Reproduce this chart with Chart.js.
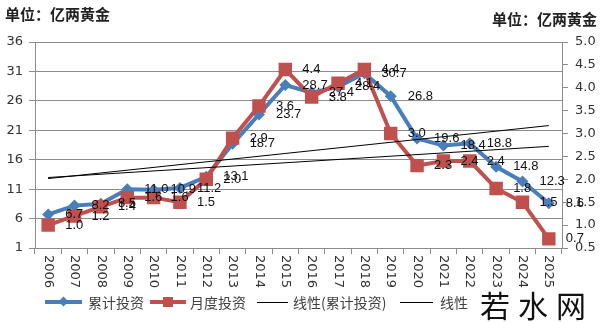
<!DOCTYPE html>
<html>
<head>
<meta charset="utf-8">
<script src="https://cdn.jsdelivr.net/npm/chart.js@4/dist/chart.umd.min.js"></script>
<style>
  body { margin: 0; background: #fff; }
  #wrap { position: relative; width: 600px; height: 322px; overflow: hidden; }
  #chart { position: absolute; left: 0; top: 0; }
  .unit { position: absolute; font: bold 15px "Noto Sans CJK SC"; color: #222; white-space: nowrap; }
  .lg { position: absolute; font: 14px "Noto Sans CJK SC"; color: #404040; white-space: nowrap; line-height: 16px; }
  .ln { position: absolute; }
  .mk { position: absolute; }
  #wm { position: absolute; left: 480px; top: 282px; font: 30px "Noto Sans CJK SC"; color: #111; letter-spacing: 8px; white-space: nowrap; }
</style>
</head>
<body>
<div id="wrap">
  <canvas id="chart" width="600" height="322"></canvas>
  <div class="unit" style="left:5px;top:3px;">单位：亿两黄金</div>
  <div class="unit" style="left:492px;top:8px;">单位：亿两黄金</div>

  <div class="ln" style="left:45px;top:300px;width:37px;height:4px;background:#4A7EBB;"></div>
  <div class="mk" style="left:60px;top:298px;width:7px;height:7px;background:#4A7EBB;transform:rotate(45deg);"></div>
  <div class="lg" style="left:88px;top:294px;">累计投资</div>

  <div class="ln" style="left:150px;top:300px;width:36px;height:4px;background:#C0504D;"></div>
  <div class="mk" style="left:163px;top:297px;width:10px;height:10px;background:#C0504D;"></div>
  <div class="lg" style="left:190px;top:294px;">月度投资</div>

  <div class="ln" style="left:257px;top:302px;width:31px;height:1px;background:#000;"></div>
  <div class="lg" style="left:293px;top:294px;">线性(累计投资)</div>

  <div class="ln" style="left:400px;top:302px;width:33px;height:1px;background:#000;"></div>
  <div class="lg" style="left:440px;top:294px;">线性</div>

  <div id="wm">若水网</div>
</div>
<script>
var years = ['2006','2007','2008','2009','2010','2011','2012','2013','2014','2015',
             '2016','2017','2018','2019','2020','2021','2022','2023','2024','2025'];
var cumulative = [6.7, 8.2, 8.5, 11.0, 10.9, 11.2, 13.1, 18.7, 23.7, 28.7,
                  27.4, 28.4, 30.7, 26.8, 19.6, 18.4, 18.8, 14.8, 12.3, 8.6];
var monthly = [1.0, 1.2, 1.4, 1.6, 1.6, 1.5, 2.0, 2.9, 3.6, 4.4,
               3.8, 4.1, 4.4, 3.0, 2.3, 2.4, 2.4, 1.8, 1.5, 0.7];
// trend line ends (first year, last year)
var trendCumulative = [12.8, 21.8];
var trendMonthly = [2.04, 2.72];

var gridGray = '#8c8c8c';
var tickFont = { family: 'DejaVu Sans', size: 13 };

var pointLabels = {
  id: 'pointLabels',
  afterDatasetsDraw: function(chart) {
    var ctx = chart.ctx;
    ctx.save();
    ctx.font = '13px "Liberation Sans"';
    ctx.fillStyle = '#111';
    ctx.textAlign = 'left';
    ctx.textBaseline = 'middle';
    [0, 1].forEach(function(di) {
      var meta = chart.getDatasetMeta(di);
      var vals = chart.data.datasets[di].data;
      meta.data.forEach(function(pt, i) {
        ctx.fillText(vals[i].toFixed(1), pt.x + 17, pt.y);
      });
    });
    ctx.restore();
  }
};

var yearLabels = {
  id: 'yearLabels',
  afterDraw: function(chart) {
    var ctx = chart.ctx;
    var xs = chart.scales.x;
    ctx.save();
    ctx.font = '13px "DejaVu Sans"';
    ctx.fillStyle = '#333';
    ctx.textAlign = 'left';
    ctx.textBaseline = 'middle';
    years.forEach(function(y, i) {
      ctx.save();
      ctx.translate(xs.getPixelForValue(i), chart.chartArea.bottom + 7);
      ctx.rotate(Math.PI / 2);
      ctx.fillText(y, 0, 0);
      ctx.restore();
    });
    ctx.restore();
  }
};

new Chart('chart', {
  type: 'line',
  data: {
    labels: years,
    datasets: [
      { label: '累计投资', data: cumulative, yAxisID: 'y', order: 3,
        borderColor: '#4A7EBB', backgroundColor: '#4A7EBB', borderWidth: 4,
        pointStyle: 'rectRot', pointRadius: 6, pointBorderWidth: 0, tension: 0 },
      { label: '月度投资', data: monthly, yAxisID: 'y1', order: 2,
        borderColor: '#C0504D', backgroundColor: '#C0504D', borderWidth: 4,
        pointStyle: 'rect', pointRadius: 9.5, pointBorderWidth: 0, tension: 0 },
      { label: '线性(累计投资)', yAxisID: 'y', order: 1,
        data: [{ x: years[0], y: trendCumulative[0] }, { x: years[years.length - 1], y: trendCumulative[1] }],
        borderColor: '#000', borderWidth: 1, pointRadius: 0 },
      { label: '线性', yAxisID: 'y1', order: 0,
        data: [{ x: years[0], y: trendMonthly[0] }, { x: years[years.length - 1], y: trendMonthly[1] }],
        borderColor: '#000', borderWidth: 1, pointRadius: 0 }
    ]
  },
  options: {
    responsive: false,
    animation: false,
    layout: { padding: { top: 42, left: 0, right: 0, bottom: 0 } },
    plugins: { legend: { display: false }, tooltip: { enabled: false } },
    scales: {
      x: {
        offset: true,
        grid: { offset: true, drawOnChartArea: false, drawTicks: true, tickLength: 6, color: gridGray },
        border: { color: gridGray },
        ticks: { display: false },
        afterFit: function(s) { s.height = 74; }
      },
      y: {
        position: 'left', min: 1, max: 36,
        ticks: { stepSize: 5, color: '#333', font: tickFont, padding: 6 },
        grid: { color: gridGray, tickLength: 6 },
        border: { color: gridGray },
        afterFit: function(s) { s.width = 35; }
      },
      y1: {
        position: 'right', min: 0.5, max: 5,
        ticks: { stepSize: 0.5, color: '#333', font: tickFont, padding: 7,
                 callback: function(v) { return v.toFixed(1); } },
        grid: { drawOnChartArea: false, color: gridGray, tickLength: 6 },
        border: { color: gridGray },
        afterFit: function(s) { s.width = 38; }
      }
    }
  },
  plugins: [pointLabels, yearLabels]
});
</script>
</body>
</html>
